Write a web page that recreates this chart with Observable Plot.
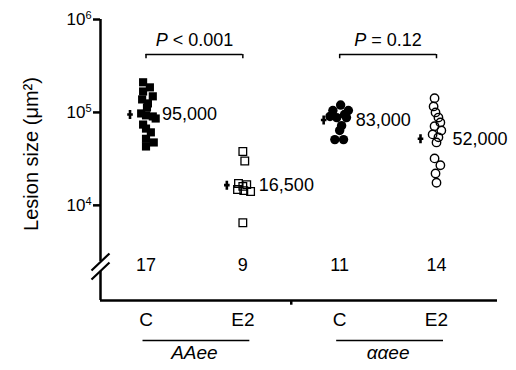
<!DOCTYPE html>
<html>
<head>
<meta charset="utf-8">
<script src="https://cdn.jsdelivr.net/npm/d3@7"></script>
<script src="https://cdn.jsdelivr.net/npm/@observablehq/plot@0.6"></script>
<style>
  html, body { margin: 0; padding: 0; background: #fff; }
  #chart svg { display: block; }
</style>
</head>
<body>
<div id="chart"></div>
<script>
// ---- data ----
const groups = ["AAee C", "AAee E2", "ααee C", "ααee E2"];
const treatments = ["C", "E2", "C", "E2"];
const genotypes = ["AAee", "ααee"];
const counts = [17, 9, 11, 14];
const means = [95000, 16500, 83000, 52000];
const meanLabels = ["95,000", "16,500", "83,000", "52,000"];
const pLabels = ["P < 0.001", "P = 0.12"];
const yTicks = [1e4, 1e5, 1e6];

// individual lesion sizes (µm²) and horizontal spread within each column
const aaeeC = [211000, 186000, 168000, 149000, 138000, 125000, 113000, 97500, 93000, 90500, 86000, 74000, 67000, 61000, 52000, 47500, 43000];
const aaeeCSpread = [-0.03, 0.04, -0.03, 0.07, -0.04, 0.02, 0.01, -0.05, 0, 0.07, 0.1, -0.03, 0, 0.05, 0, 0.08, 0];
const aaeeE2 = [38000, 30000, 17200, 16700, 16000, 14800, 14400, 14100, 6500];
const aaeeE2Spread = [0, 0.02, -0.045, 0.04, 0, -0.055, 0.01, 0.08, 0];
const alphaC = [120000, 105000, 105000, 95000, 90500, 88000, 88000, 72000, 64000, 51000, 51000];
const alphaCSpread = [0.01, -0.07, 0.09, 0.05, -0.10, -0.03, 0.07, 0.02, 0, -0.05, 0.04];
const alphaE2 = [142000, 116000, 100000, 88000, 78000, 71000, 64000, 58000, 54000, 47500, 32000, 27000, 22000, 17500];
const alphaE2Spread = [-0.02, -0.03, -0.01, 0.02, 0.04, -0.02, 0.05, -0.04, 0.02, 0, -0.02, 0.04, -0.01, 0];

// ---- build table ----
const series = [aaeeC, aaeeE2, alphaC, alphaE2];
const spreads = [aaeeCSpread, aaeeE2Spread, alphaCSpread, alphaE2Spread];
const rows = [];
series.forEach((vals, g) => vals.forEach((v, k) => rows.push({g, v, x: g + spreads[g][k]})));
const idx = groups.map((_, i) => i);

const yMin = 946, yMax = 1e6;
const xMin = -0.47, xMax = 3.63;
const bracketY = 4.2e5;
const breakY = 2200, breakGap = 1.13;

const breakSymbol = {
  draw(ctx) {
    for (const o of [-4.5, 4.5]) {
      ctx.moveTo(-9, 8.5 + o);
      ctx.lineTo(9, -8.5 + o);
    }
  }
};
const meanSymbol = {
  draw(ctx) {
    ctx.moveTo(0, -4.5); ctx.lineTo(0, 4.5);
    ctx.moveTo(-2.8, 0); ctx.lineTo(2.8, 0);
  }
};

const styleFor = [
  {symbol: "square", r: 4.6, fill: "black", stroke: "none"},
  {symbol: "square", r: 4.3, fill: "none", stroke: "black", strokeWidth: 1.3},
  {symbol: "circle", r: 4.7, fill: "black", stroke: "none"},
  {symbol: "circle", r: 4.2, fill: "none", stroke: "black", strokeWidth: 1.4}
];

const chart = Plot.plot({
  width: 516,
  height: 370,
  marginLeft: 100,
  marginRight: 19,
  marginTop: 19,
  marginBottom: 70,
  style: {fontFamily: "'Liberation Sans', Arial, Helvetica, sans-serif", fontSize: "18px", color: "black", background: "white"},
  x: {domain: [xMin, xMax], axis: null},
  y: {type: "log", domain: [yMin, yMax], ticks: yTicks, tickFormat: d => "10^" + Math.round(Math.log10(d)), tickSize: 0, tickPadding: 9, label: null},
  marks: [
    // axes lines
    Plot.ruleY([yMin], {x1: xMin, x2: xMax, stroke: "black", strokeWidth: 2.5}),
    Plot.ruleX([xMin], {y1: yMax, y2: breakY * breakGap, stroke: "black", strokeWidth: 2.5}),
    Plot.ruleX([xMin], {y1: breakY / breakGap, y2: yMin, stroke: "black", strokeWidth: 2.5}),
    Plot.dot([breakY], {x: xMin, y: d => d, symbol: breakSymbol, stroke: "black", strokeWidth: 2.2, fill: "none"}),
    Plot.ruleY(yTicks, {x1: xMin, x2: xMin, insetLeft: -7, stroke: "black", strokeWidth: 2.5}),
    Plot.ruleX([1.5], {y1: yMin, y2: yMin * 0.89, stroke: "black", strokeWidth: 2.5}),
    // y label
    Plot.text(["Lesion size (μm²)"], {frameAnchor: "left", textAnchor: "middle", rotate: -90, dx: -69, dy: -6, fontSize: 20}),
    // data points
    ...styleFor.map((s, g) => Plot.dot(rows.filter(d => d.g === g), {x: "x", y: "v", ...s})),
    // means
    Plot.dot(idx, {x: i => i, y: i => means[i], dx: -16, symbol: meanSymbol, stroke: "black", strokeWidth: 2.6}),
    Plot.text(idx, {x: i => i, y: i => means[i], text: i => meanLabels[i], dx: 16, textAnchor: "start", fontSize: 18}),
    // counts
    Plot.text(idx, {x: i => i, text: i => String(counts[i]), frameAnchor: "bottom", dy: -30, fontSize: 18}),
    // treatment labels
    Plot.text(idx, {x: i => i, text: i => treatments[i], frameAnchor: "bottom", dy: 25, fontSize: 19}),
    // genotype underline + label
    Plot.ruleY([0, 2], {y: () => yMin, x1: i => i, x2: i => i + 1, dy: 40, insetLeft: -3, insetRight: -7, stroke: "black", strokeWidth: 1.5}),
    Plot.text([0, 1], {x: k => 2 * k + 0.5, text: k => genotypes[k], frameAnchor: "bottom", dy: 58, fontSize: 19, fontStyle: "italic"}),
    // significance brackets
    Plot.ruleY([0, 2], {y: () => bracketY, x1: i => i, x2: i => i + 1, stroke: "black", strokeWidth: 1.5}),
    Plot.ruleX([0, 1, 2, 3], {x: i => i, y1: bracketY, y2: bracketY * 0.9, stroke: "black", strokeWidth: 1.5}),
    Plot.text([0, 1], {x: k => 2 * k + 0.5, y: bracketY, text: k => pLabels[k], dy: -14, fontSize: 18})
  ]
});

const root = d3.select(chart);
// italic "P" in p-value labels
root.selectAll("text").each(function() {
  const t = this.textContent;
  if (/^P [<=]/.test(t)) {
    const el = d3.select(this);
    el.text(null);
    el.append("tspan").attr("font-style", "italic").text("P");
    el.append("tspan").text(t.slice(1));
  }
});
// superscript exponents on the y tick labels
root.selectAll("text").each(function() {
  const m = /^10\^(\d+)$/.exec(this.textContent);
  if (m) {
    const el = d3.select(this);
    el.text(null).attr("font-size", 17);
    el.append("tspan").text("10");
    el.append("tspan").attr("font-size", 11).attr("dy", "-0.5em").text(m[1]);
  }
});

document.getElementById("chart").appendChild(chart);
</script>
</body>
</html>
